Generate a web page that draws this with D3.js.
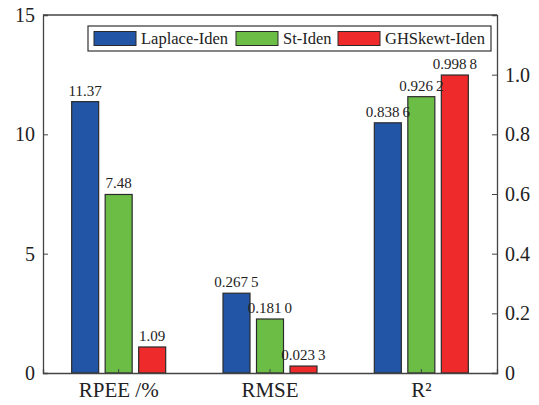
<!DOCTYPE html>
<html>
<head>
<meta charset="utf-8">
<script src="https://cdn.jsdelivr.net/npm/d3@7"></script>
</head>
<body style="margin:0">
<svg id="chart" width="539" height="405"></svg>
<script>
// data
const categories = ["RPEE /%", "RMSE", "R²"];
const series = ["Laplace-Iden", "St-Iden", "GHSkewt-Iden"];
const colors = ["#2355a7", "#6cbd45", "#ee2a2a"];
// which axis each category is drawn against
const axisOf = ["left", "right", "right"];
const laplace = [11.37, 0.2675, 0.8386];
const st = [7.48, 0.1810, 0.9262];
const ghskewt = [1.09, 0.0233, 0.9988];
const valueLabels = [
  ["11.37", "0.267\u20095", "0.838\u20096"],
  ["7.48", "0.181\u20090", "0.926\u20092"],
  ["1.09", "0.023\u20093", "0.998\u20098"]
];
const leftTicks = [0, 5, 10, 15];
const rightTicks = [0, 0.2, 0.4, 0.6, 0.8, 1.0];

const width = 539, height = 405;
const margin = { top: 15, right: 42, bottom: 32, left: 43 };
const FONT = "Liberation Serif";
const svg = d3.select("#chart");

const x = d3.scaleBand().domain(categories).range([margin.left, width - margin.right]).padding(0);
const yL = d3.scaleLinear().domain([0, 15]).range([height - margin.bottom, margin.top]);
const yR = d3.scaleLinear().domain([0, 1.2]).range([height - margin.bottom, margin.top]);

const barW = 27, step = 33.5;
const values = [laplace, st, ghskewt];

let bars = [];
values.forEach((vals, s) => {
  vals.forEach((v, c) => bars.push({ s, c, v, label: valueLabels[s][c] }));
});
const yOf = d => axisOf[d.c] === "left" ? yL : yR;
const cx = d => x(categories[d.c]) + x.bandwidth() / 2 + (d.s - 1) * step;

svg.selectAll("rect.bar").data(bars).enter().append("rect")
  .attr("class", "bar")
  .attr("x", d => cx(d) - barW / 2)
  .attr("y", d => yOf(d)(d.v))
  .attr("width", barW)
  .attr("height", d => yOf(d)(0) - yOf(d)(d.v))
  .attr("fill", d => colors[d.s])
  .attr("stroke", "#2b2b2b")
  .attr("stroke-width", 1.2);

svg.selectAll("text.val").data(bars).enter().append("text")
  .attr("class", "val")
  .attr("x", d => cx(d))
  .attr("y", d => yOf(d)(d.v) - 6)
  .attr("text-anchor", "middle")
  .attr("font-family", FONT)
  .attr("font-size", 15)
  .attr("fill", "#222")
  .text(d => d.label);

// frame top
const x0 = margin.left, x1 = width - margin.right, y0 = height - margin.bottom, y1 = margin.top;
svg.append("line").attr("x1", x0).attr("x2", x1).attr("y1", y1).attr("y2", y1)
  .attr("stroke", "#444").attr("stroke-width", 1.3);

// left axis, ticks pointing inward
const gL = svg.append("g").attr("transform", `translate(${x0},0)`)
  .call(d3.axisRight(yL).tickValues(leftTicks).tickSize(5).tickFormat(d3.format("d")));
gL.selectAll("text").attr("x", -8).attr("text-anchor", "end");

// right axis
const gR = svg.append("g").attr("transform", `translate(${x1},0)`)
  .call(d3.axisLeft(yR).tickValues(rightTicks).tickSize(5).tickFormat(d => d === 0 ? "0" : d3.format(".1f")(d)));
gR.selectAll("text").attr("x", 8).attr("text-anchor", "start");

[gL, gR].forEach(g => {
  g.attr("font-family", FONT).attr("font-size", 20);
  g.selectAll("text").attr("font-family", FONT).attr("font-size", 20).attr("fill", "#222");
});

// bottom axis
const gB = svg.append("g").attr("transform", `translate(0,${y0})`)
  .call(d3.axisTop(x).tickSize(4).tickFormat(""));
gB.selectAll(".tick text").remove();
svg.selectAll(".domain").attr("stroke", "#444").attr("stroke-width", 1.3);
svg.selectAll(".tick line").attr("stroke", "#444");

svg.selectAll("text.cat").data(categories).enter().append("text")
  .attr("class", "cat")
  .attr("x", d => x(d) + x.bandwidth() / 2)
  .attr("y", y0 + 24)
  .attr("text-anchor", "middle")
  .attr("font-family", FONT)
  .attr("font-size", 21)
  .attr("fill", "#222")
  .text(d => d);

// legend
const lg = svg.append("g");
lg.append("rect").attr("x", 88).attr("y", 26).attr("width", 403).attr("height", 25)
  .attr("fill", "#fff").attr("stroke", "#333").attr("stroke-width", 1.2);
const legX = [94, 236, 338];
series.forEach((name, i) => {
  lg.append("rect").attr("x", legX[i]).attr("y", 31.5).attr("width", 42).attr("height", 14)
    .attr("fill", colors[i]).attr("stroke", "#2b2b2b").attr("stroke-width", 1);
  lg.append("text").attr("x", legX[i] + 47).attr("y", 44)
    .attr("font-family", FONT).attr("font-size", 16.5).attr("fill", "#222")
    .text(name);
});
</script>
</body>
</html>
